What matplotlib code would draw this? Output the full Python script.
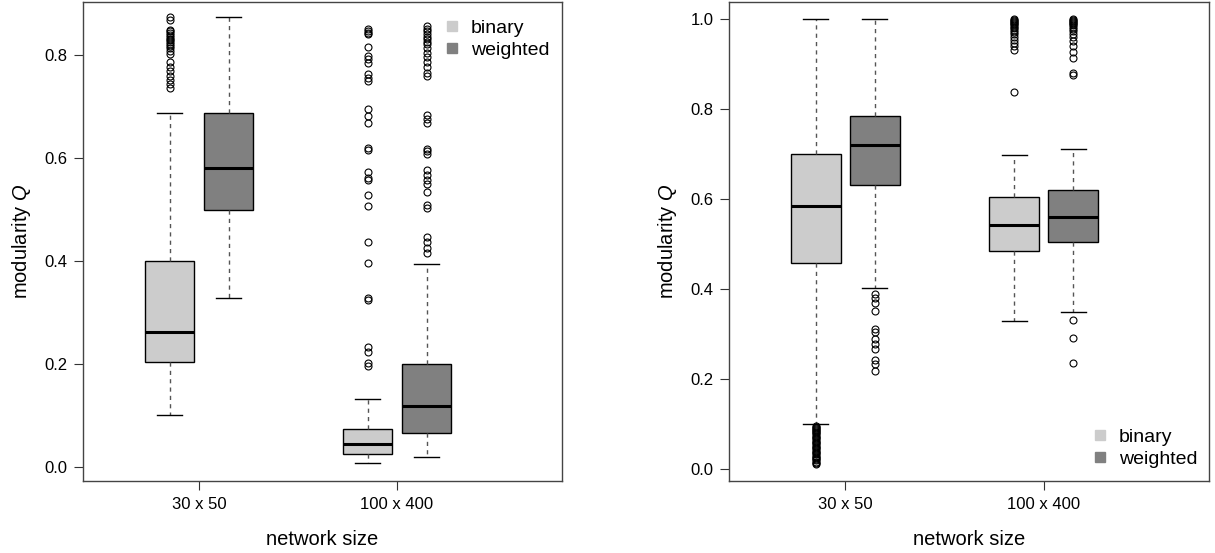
import matplotlib
matplotlib.use("Agg")
import matplotlib.pyplot as plt
from matplotlib.lines import Line2D

plt.rcParams['font.family'] = ['Liberation Sans', 'DejaVu Sans']
plt.rcParams['mathtext.fontset'] = 'custom'
plt.rcParams['mathtext.it'] = 'Liberation Sans:italic'
plt.rcParams['mathtext.rm'] = 'Liberation Sans'

# ---------------- data ----------------
sizes = ["30 x 50", "100 x 400"]
types = ["binary", "weighted"]
type_colors = ["#cccccc", "#808080"]

# five-number summaries: [lower whisker, Q1, median, Q3, upper whisker]
# left panel
L_bin_30 = [0.101, 0.203, 0.261, 0.400, 0.686]
L_wei_30 = [0.327, 0.499, 0.580, 0.687, 0.872]
L_bin_100 = [0.007, 0.024, 0.043, 0.072, 0.132]
L_wei_100 = [0.018, 0.065, 0.117, 0.199, 0.394]

L_bin_30_out = [0.872, 0.868, 0.848, 0.845, 0.842, 0.838, 0.835, 0.831, 0.828,
                0.824, 0.820, 0.816, 0.812, 0.806, 0.801, 0.786, 0.776, 0.768,
                0.759, 0.751, 0.743, 0.735]
L_wei_30_out = []
L_bin_100_out = [0.849, 0.846, 0.842, 0.839, 0.815, 0.798, 0.791, 0.784, 0.763,
                 0.755, 0.748, 0.695, 0.681, 0.667, 0.618, 0.615, 0.571, 0.561,
                 0.557, 0.527, 0.505, 0.436, 0.396, 0.327, 0.324, 0.233, 0.222,
                 0.201, 0.195]
L_wei_100_out = [0.855, 0.850, 0.845, 0.840, 0.835, 0.830, 0.825, 0.820, 0.812,
                 0.803, 0.795, 0.785, 0.775, 0.765, 0.758, 0.683, 0.675, 0.668,
                 0.617, 0.613, 0.607, 0.575, 0.566, 0.557, 0.548, 0.533, 0.508,
                 0.503, 0.445, 0.437, 0.425, 0.415]

# right panel
R_bin_30 = [0.102, 0.459, 0.586, 0.700, 1.000]
R_wei_30 = [0.403, 0.633, 0.721, 0.785, 1.000]
R_bin_100 = [0.330, 0.486, 0.543, 0.606, 0.698]
R_wei_100 = [0.351, 0.506, 0.561, 0.621, 0.712]

R_bin_30_out = [0.097, 0.095, 0.093, 0.091, 0.088, 0.086, 0.083, 0.080, 0.078,
                0.075, 0.072, 0.069, 0.067, 0.064, 0.061, 0.058, 0.056, 0.053,
                0.050, 0.047, 0.045, 0.042, 0.039, 0.037, 0.034, 0.031, 0.028,
                0.026, 0.023, 0.020, 0.017, 0.014, 0.012]
R_wei_30_out = [0.390, 0.380, 0.369, 0.353, 0.312, 0.306, 0.290, 0.278, 0.267,
                0.243, 0.235, 0.218]
R_bin_100_out = [1.000, 0.998, 0.996, 0.994, 0.992, 0.990, 0.987, 0.984, 0.980,
                 0.977, 0.973, 0.968, 0.962, 0.955, 0.947, 0.940, 0.933, 0.839]
R_wei_100_out = [1.000, 0.998, 0.996, 0.994, 0.992, 0.990, 0.987, 0.983, 0.979,
                 0.974, 0.968, 0.960, 0.951, 0.940, 0.928, 0.914, 0.880, 0.876,
                 0.332, 0.292, 0.237]

left_ticks = [0.0, 0.2, 0.4, 0.6, 0.8]
right_ticks = [0.0, 0.2, 0.4, 0.6, 0.8, 1.0]

# ---------------- figure ----------------
fig = plt.figure(figsize=(12.15, 5.53), dpi=100)
axL = fig.add_axes([83 / 1215, 1 - 481 / 553, (562 - 83) / 1215, (481 - 2) / 553])
axR = fig.add_axes([729 / 1215, 1 - 481 / 553, (1209 - 729) / 1215, (481 - 2) / 553])

OFF = 0.149
WID = 0.25


def stats_of(summary, fliers):
    lo, q1, med, q3, hi = summary
    return dict(whislo=lo, q1=q1, med=med, q3=q3, whishi=hi, fliers=fliers)


def draw_panel(ax, summaries, fliers, ylim, yticks):
    stats = [stats_of(s, f) for s, f in zip(summaries, fliers)]
    positions = [1 - OFF, 1 + OFF, 2 - OFF, 2 + OFF]
    res = ax.bxp(stats, positions=positions, widths=WID, patch_artist=True,
                 manage_ticks=False,
                 boxprops=dict(edgecolor='black', linewidth=1.0),
                 medianprops=dict(color='black', linewidth=2.2, solid_capstyle='butt'),
                 whiskerprops=dict(color='#555555', linewidth=1.0, linestyle=(0, (3, 3))),
                 capprops=dict(color='black', linewidth=1.0),
                 flierprops=dict(marker='o', markerfacecolor='none',
                                 markeredgecolor='black', markersize=5,
                                 markeredgewidth=0.8, linestyle='none'))
    for i, b in enumerate(res['boxes']):
        b.set_facecolor(type_colors[i % 2])
    ax.set_xlim(0.414, 2.833)
    ax.set_ylim(*ylim)
    ax.set_xticks([1, 2])
    ax.set_xticklabels(sizes)
    ax.set_yticks(yticks)
    ax.set_yticklabels([f"{t:.1f}" for t in yticks])
    ax.tick_params(axis='both', direction='out', length=6.3, width=0.8,
                   labelsize=12, color='#333333')
    ax.tick_params(axis='y', pad=5)
    ax.tick_params(axis='x', pad=5)
    for sp in ax.spines.values():
        sp.set_color('#444444')
        sp.set_linewidth(1.0)
    ax.set_xlabel("network size", fontsize=14.5)
    ax.set_ylabel("modularity $Q$", fontsize=14.5)
    ax.yaxis.set_label_coords(-0.105, 0.5)
    ax.xaxis.set_label_coords(0.5, -0.102)


draw_panel(axL, [L_bin_30, L_wei_30, L_bin_100, L_wei_100],
           [L_bin_30_out, L_wei_30_out, L_bin_100_out, L_wei_100_out],
           (-0.028, 0.902), left_ticks)
draw_panel(axR, [R_bin_30, R_wei_30, R_bin_100, R_wei_100],
           [R_bin_30_out, R_wei_30_out, R_bin_100_out, R_wei_100_out],
           (-0.0256, 1.0387), right_ticks)

handles = [Line2D([], [], marker='s', linestyle='none', markersize=7.5,
                  markerfacecolor=c, markeredgecolor=c) for c in type_colors]
axL.legend(handles, types, loc='upper left', bbox_to_anchor=((442 - 83) / 479, (481 - 19) / 479),
           frameon=False, fontsize=14, handlelength=1.0, handletextpad=0.5,
           labelspacing=0.25, borderpad=0, borderaxespad=0)
axR.legend(handles, types, loc='lower left', bbox_to_anchor=((1090 - 729) / 480, (481 - 468) / 479),
           frameon=False, fontsize=14, handlelength=1.0, handletextpad=0.5,
           labelspacing=0.25, borderpad=0, borderaxespad=0)

fig.savefig("out.png", dpi=100)
